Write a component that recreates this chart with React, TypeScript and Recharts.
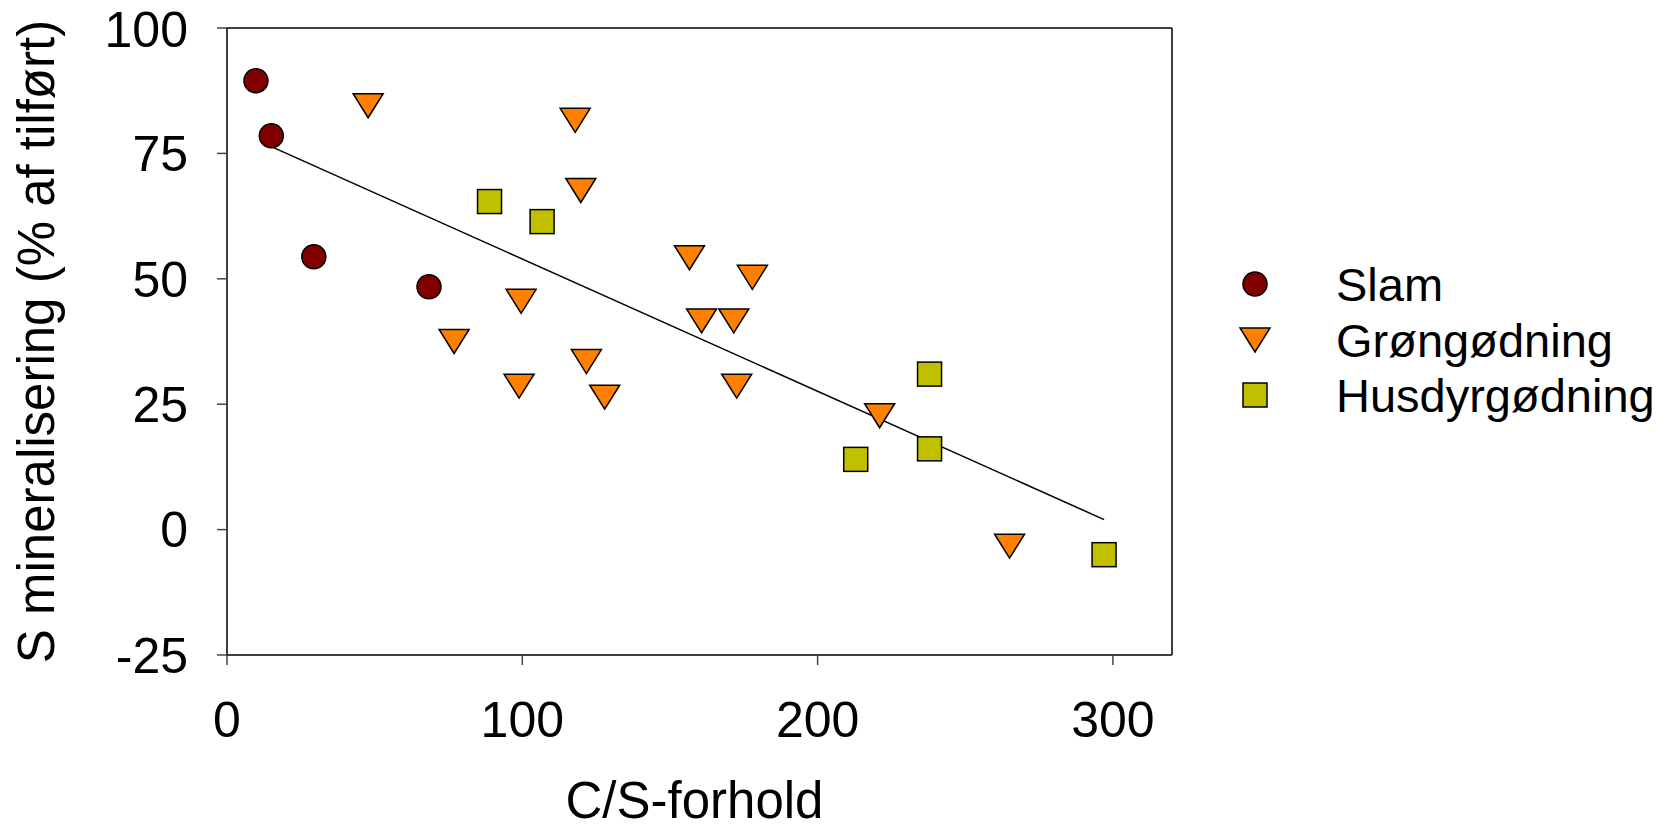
import { ScatterChart, Scatter, XAxis, YAxis, ReferenceLine } from "recharts";

// S-mineralisering mod C/S-forhold, tre gødningstyper + regressionslinje

const FONT = '"Liberation Sans", Arial, Helvetica, sans-serif';

const slamX = [9.8, 15.0, 29.4, 68.4];
const slamY = [89.5, 78.5, 54.4, 48.4];

const groenX = [47.8, 117.9, 119.8, 156.6, 177.9, 99.6, 76.9, 160.7, 171.6, 121.7, 98.9, 127.9, 172.6, 221.0, 265.0];
const groenY = [84.5, 81.6, 67.6, 54.2, 50.3, 45.5, 37.5, 41.6, 41.6, 33.5, 28.6, 26.4, 28.6, 22.7, -3.3];

const husX = [88.9, 106.7, 237.9, 212.9, 237.9, 297.0];
const husY = [65.4, 61.4, 31.0, 14.0, 16.1, -5.0];

// endepunkter for regressionslinjen
const fitX = [15.2, 297];
const fitY = [76.3, 2.0];

const xTicks = [0, 100, 200, 300];
const yTicks = [-25, 0, 25, 50, 75, 100];

const SERIES = [
  { name: "Slam", color: "#800000" },
  { name: "Grøngødning", color: "#ff8000" },
  { name: "Husdyrgødning", color: "#c0c000" },
];

const zip = (xs: number[], ys: number[]) => xs.map((x, i) => ({ x, y: ys[i] }));

const CircleMark = ({ cx, cy }: any) => (
  <circle cx={cx} cy={cy} r={12} fill={SERIES[0].color} stroke="#000" strokeWidth={1.5} />
);

const TriMark = ({ cx, cy }: any) => (
  <path
    d={`M${cx - 15},${cy - 12}L${cx + 15},${cy - 12}L${cx},${cy + 12}Z`}
    fill={SERIES[1].color}
    stroke="#000"
    strokeWidth={1.5}
  />
);

const SquareMark = ({ cx, cy }: any) => (
  <rect x={cx - 12} y={cy - 12} width={24} height={24} fill={SERIES[2].color} stroke="#000" strokeWidth={1.5} />
);

const tickStyle = { fontSize: 50, fill: "#000", fontFamily: FONT };

function LegendBox() {
  const rows = [284, 340, 395];
  return (
    <svg width={1673} height={829} style={{ position: "absolute", left: 0, top: 0, pointerEvents: "none" }}>
      <circle cx={1255} cy={rows[0]} r={12} fill={SERIES[0].color} stroke="#000" strokeWidth={1.5} />
      <path
        d={`M${1255 - 15},${rows[1] - 12}L${1255 + 15},${rows[1] - 12}L1255,${rows[1] + 12}Z`}
        fill={SERIES[1].color}
        stroke="#000"
        strokeWidth={1.5}
      />
      <rect x={1243} y={rows[2] - 12} width={24} height={24} fill={SERIES[2].color} stroke="#000" strokeWidth={1.5} />
      {SERIES.map((s, i) => (
        <text key={s.name} x={1336} y={rows[i] + 17} fontSize={47} fontFamily={FONT} fill="#000">
          {s.name}
        </text>
      ))}
    </svg>
  );
}

export default function App() {
  const fit = zip(fitX, fitY);
  return (
    <div style={{ position: "absolute", left: 0, top: 0, width: 1673, height: 829, background: "#fff" }}>
      <ScatterChart width={1673} height={829} margin={{ top: 28, right: 501, bottom: 0, left: 0 }}>
        <XAxis
          type="number"
          dataKey="x"
          domain={[0, 320]}
          ticks={xTicks}
          height={174}
          tick={tickStyle}
          tickSize={10}
          tickMargin={36}
          axisLine={{ stroke: "#000", strokeWidth: 1.5 }}
          tickLine={{ stroke: "#444", strokeWidth: 1.5 }}
          label={{
            value: "C/S-forhold",
            position: "insideBottom",
            offset: 11,
            dx: -5,
            fontSize: 51,
            fill: "#000",
            fontFamily: FONT,
          }}
        />
        <YAxis
          type="number"
          dataKey="y"
          domain={[-25, 100]}
          ticks={yTicks}
          width={227}
          tick={tickStyle}
          tickSize={10}
          tickMargin={29}
          axisLine={{ stroke: "#000", strokeWidth: 1.5 }}
          tickLine={{ stroke: "#444", strokeWidth: 1.5 }}
          label={{
            value: "S mineralisering (% af tilført)",
            angle: -90,
            position: "insideLeft",
            offset: 36,
            fontSize: 51,
            fill: "#000",
            fontFamily: FONT,
            style: { textAnchor: "middle" },
          }}
        />
        <ReferenceLine y={100} stroke="#000" strokeWidth={1.5} />
        <ReferenceLine x={320} stroke="#000" strokeWidth={1.5} />
        <ReferenceLine segment={fit} stroke="#000" strokeWidth={1.5} />
        <Scatter name="Slam" data={zip(slamX, slamY)} shape={CircleMark} isAnimationActive={false} />
        <Scatter name="Grøngødning" data={zip(groenX, groenY)} shape={TriMark} isAnimationActive={false} />
        <Scatter name="Husdyrgødning" data={zip(husX, husY)} shape={SquareMark} isAnimationActive={false} />
      </ScatterChart>
      <LegendBox />
    </div>
  );
}
